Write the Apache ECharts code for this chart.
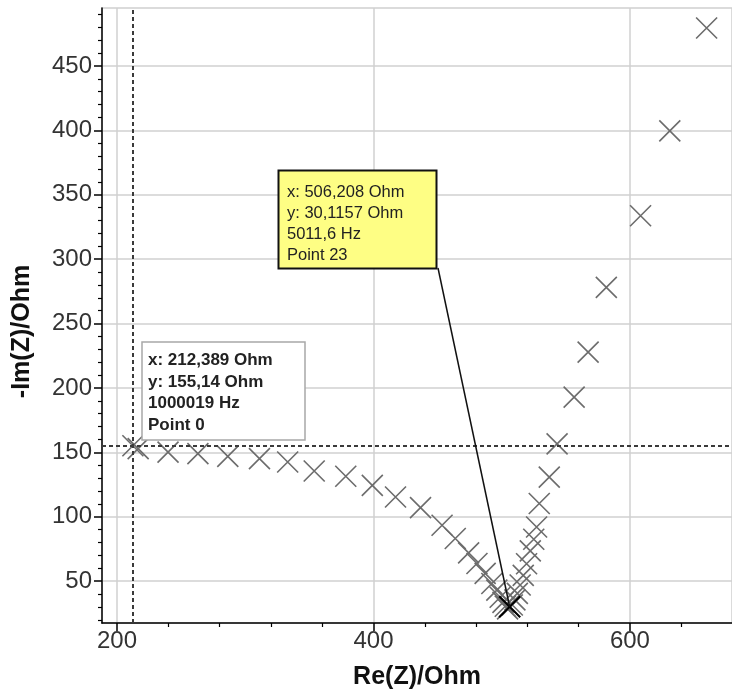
<!DOCTYPE html>
<html>
<head>
<meta charset="utf-8">
<script src="https://cdn.jsdelivr.net/npm/echarts@6/dist/echarts.min.js"></script>
<style>
html,body{margin:0;padding:0;background:#fff;}
#c{width:732px;height:696px;}
</style>
</head>
<body>
<div id="c"></div>
<script>
// ---- data ----
const reZ = [212.389, 216.5, 239.8, 263.1, 286.4, 311.1, 333.1, 353.8, 378.4, 399.1, 417.2, 436.7, 453.5, 463.8, 474.2, 480.7, 487.1, 492.3, 496.2, 498.8, 501.0, 502.8, 504.6, 506.208, 508.3, 510.3, 512.2, 514.4, 516.8, 519.4, 522.3, 525.0, 527.2, 529.3, 537.1, 543.2, 556.5, 567.4, 581.6, 608.3, 631.1, 659.8];
const negImZ = [155.14, 152.9, 150.2, 149.0, 146.9, 145.1, 142.5, 135.5, 131.4, 124.4, 115.3, 107.1, 93.4, 83.1, 71.9, 63.7, 56.0, 48.2, 43.0, 37.5, 33.5, 30.5, 28.5, 30.1157, 31.5, 35.5, 40.5, 47.0, 54.5, 63.5, 73.5, 82.5, 92.0, 110.3, 130.8, 156.6, 192.9, 227.8, 278.1, 333.7, 399.6, 479.5];
const xMajorTicks = [200, 400, 600];
const yMajorTicks = [50, 100, 150, 200, 250, 300, 350, 400, 450];
const xMinorTicks = [240, 280, 320, 360, 440, 480, 520, 560, 640];
const yMinorTicks = [20, 30, 40, 60, 70, 80, 90, 110, 120, 130, 140, 160, 170, 180, 190, 210, 220, 230, 240, 260, 270, 280, 290, 310, 320, 330, 340, 360, 370, 380, 390, 410, 420, 430, 440, 460, 470, 480, 490];
const cursorIndex = 0;
const highlightIndex = 23;
const cursorText = ['x: 212,389 Ohm', 'y: 155,14 Ohm', '1000019 Hz', 'Point 0'];
const highlightText = ['x: 506,208 Ohm', 'y: 30,1157 Ohm', '5011,6 Hz', 'Point 23'];
const xTitle = 'Re(Z)/Ohm';
const yTitle = '-Im(Z)/Ohm';

// ---- chart ----
const X_MIN = 188.3, X_MAX = 679.6, Y_MIN = 17.5, Y_MAX = 495;
const FONT = '"Liberation Sans", Arial, sans-serif';
const GRID_COLOR = '#d0d0d0';
const crossPath = 'path://M0,0L10,10M10,0L0,10';

const points = reZ.map((x, i) => [x, negImZ[i]]);

const chart = echarts.init(document.getElementById('c'), null, {renderer: 'canvas'});

const option = {
  animation: false,
  backgroundColor: '#ffffff',
  grid: {left: 102, right: -2, top: 8, bottom: 73, show: true, borderColor: GRID_COLOR, borderWidth: 1.5, backgroundColor: 'transparent'},
  xAxis: [{
    type: 'value', min: X_MIN, max: X_MAX,
    name: xTitle, nameLocation: 'middle', nameGap: 42,
    nameTextStyle: {fontFamily: FONT, fontSize: 25, fontWeight: 'bold', color: '#111'},
    axisLine: {onZero: false, lineStyle: {color: '#000', width: 1.5}},
    axisTick: {customValues: xMajorTicks, length: 8, lineStyle: {color: '#000', width: 1.5}},
    axisLabel: {customValues: xMajorTicks, margin: 6, fontFamily: FONT, fontSize: 24, color: '#333'},
    splitLine: {show: true, lineStyle: {color: GRID_COLOR, width: 1.5}}
  }, {
    type: 'value', min: X_MIN, max: X_MAX, position: 'bottom',
    axisLine: {show: false, onZero: false},
    axisTick: {customValues: xMinorTicks, length: 4, lineStyle: {color: '#000', width: 1.2}},
    axisLabel: {show: false},
    splitLine: {show: false}
  }],
  yAxis: [{
    type: 'value', min: Y_MIN, max: Y_MAX,
    name: yTitle, nameLocation: 'middle', nameGap: 67,
    nameTextStyle: {fontFamily: FONT, fontSize: 25, fontWeight: 'bold', color: '#111', padding: [0, 32, 0, 0]},
    axisLine: {onZero: false, lineStyle: {color: '#000', width: 1.5}},
    axisTick: {customValues: yMajorTicks, length: 8, lineStyle: {color: '#000', width: 1.5}},
    axisLabel: {customValues: yMajorTicks, margin: 10, fontFamily: FONT, fontSize: 24, color: '#333'},
    splitLine: {show: true, lineStyle: {color: GRID_COLOR, width: 1.5}}
  }, {
    type: 'value', min: Y_MIN, max: Y_MAX, position: 'left',
    axisLine: {show: false, onZero: false},
    axisTick: {customValues: yMinorTicks, length: 4, lineStyle: {color: '#000', width: 1.2}},
    axisLabel: {show: false},
    splitLine: {show: false}
  }],
  series: [{
    type: 'scatter', silent: true, xAxisIndex: 0, yAxisIndex: 0,
    symbol: crossPath, symbolSize: 21,
    itemStyle: {color: 'transparent', borderColor: '#6c6c6c', borderWidth: 1.6, opacity: 1},
    emphasis: {disabled: true},
    data: points,
    markLine: {
      silent: true, symbol: 'none', label: {show: false}, animation: false,
      lineStyle: {color: '#3a3a3a', type: [4, 3], width: 2},
      emphasis: {disabled: true},
      data: [{xAxis: reZ[cursorIndex]}, {yAxis: negImZ[cursorIndex]}]
    },
    z: 3
  }, {
    type: 'scatter', silent: true, xAxisIndex: 0, yAxisIndex: 0,
    symbol: crossPath, symbolSize: 21,
    itemStyle: {color: 'transparent', borderColor: '#000', borderWidth: 2, opacity: 1},
    emphasis: {disabled: true},
    data: [points[highlightIndex]],
    z: 4
  }]
};
chart.setOption(option);

const hp = chart.convertToPixel({xAxisIndex: 0, yAxisIndex: 0}, points[highlightIndex]);
chart.setOption({
  graphic: [
    {type: 'line', silent: true, z: 20, shape: {x1: 438, y1: 268, x2: hp[0], y2: hp[1]}, style: {stroke: '#111', lineWidth: 1.5}},
    {type: 'rect', silent: true, z: 21, shape: {x: 278.5, y: 170.5, width: 158, height: 98}, style: {fill: '#fefe84', stroke: '#111', lineWidth: 2}},
    {type: 'text', silent: true, z: 22, x: 287, y: 181.5, style: {text: highlightText.join('\n'), fontFamily: FONT, fontSize: 16.5, fill: '#222', lineHeight: 21.2, verticalAlign: 'top', align: 'left'}},
    {type: 'rect', silent: true, z: 21, shape: {x: 142, y: 342, width: 163, height: 98}, style: {fill: '#ffffff', stroke: '#a8a8a8', lineWidth: 1.5}},
    {type: 'text', silent: true, z: 22, x: 148, y: 349.5, style: {text: cursorText.join('\n'), fontFamily: FONT, fontSize: 17, fontWeight: 'bold', fill: '#222', lineHeight: 21.7, verticalAlign: 'top', align: 'left'}}
  ]
});
</script>
</body>
</html>
